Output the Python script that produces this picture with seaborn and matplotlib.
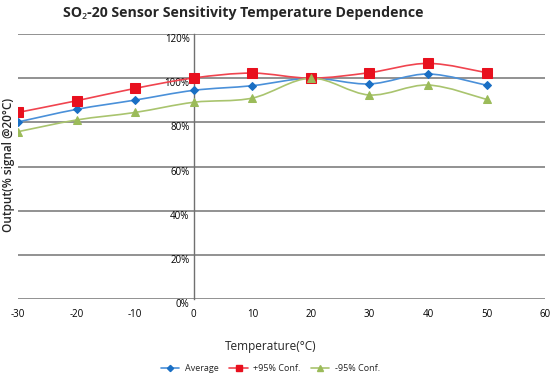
#!/usr/bin/env python3
import numpy as np
import pandas as pd
import matplotlib
matplotlib.use("Agg")
import matplotlib.pyplot as plt
from matplotlib.path import Path
from matplotlib.patches import PathPatch
from matplotlib.lines import Line2D
import seaborn as sns

temps = [-30, -20, -10, 0, 10, 20, 30, 40, 50]
average = [80.2, 85.9, 90.1, 94.5, 96.6, 100.0, 97.4, 101.9, 96.8]
upper95 = [84.5, 89.8, 95.4, 100.1, 102.3, 100.0, 102.5, 106.7, 102.5]
lower95 = [75.8, 81.1, 84.5, 89.1, 91.0, 100.0, 92.4, 96.9, 90.4]
series_names = ["Average", "+95% Conf.", "-95% Conf."]
x_ticks = [-30, -20, -10, 0, 10, 20, 30, 40, 50, 60]
y_ticks = [0, 20, 40, 60, 80, 100, 120]

colors = {"Average": "#1a6fc4", "+95% Conf.": "#e8101e", "-95% Conf.": "#9bbb59"}
line_colors = {"Average": "#4a90d9", "+95% Conf.": "#f0444f", "-95% Conf.": "#a9c46e"}
markers = {"Average": "D", "+95% Conf.": "s", "-95% Conf.": "^"}
msizes = {"Average": 4.5, "+95% Conf.": 6.5, "-95% Conf.": 6}

df = pd.DataFrame({"temp": temps, "Average": average, "+95% Conf.": upper95, "-95% Conf.": lower95})
long = df.melt(id_vars="temp", var_name="series", value_name="value")

sns.set_theme(style="white")
plt.rcParams["font.family"] = ["Open Sans", "Noto Sans", "DejaVu Sans"]

fig = plt.figure(figsize=(5.5, 3.82), dpi=100, facecolor="white")
ax = fig.add_axes([0.033, 0.217, 0.958, 0.694])


def smooth_path(xs, ys):
    # excel-like smoothed line: cubic bezier through every point
    pts = np.column_stack([xs, ys]).astype(float)
    verts = [tuple(pts[0])]
    codes = [Path.MOVETO]
    n = len(pts)
    for i in range(n - 1):
        p0 = pts[max(i - 1, 0)]
        p1 = pts[i]
        p2 = pts[i + 1]
        p3 = pts[min(i + 2, n - 1)]
        c1 = p1 + (p2 - p0) / 6.0
        c2 = p2 - (p3 - p1) / 6.0
        verts += [tuple(c1), tuple(c2), tuple(p2)]
        codes += [Path.CURVE4] * 3
    return Path(verts, codes)


for name in series_names:
    sub = long[long["series"] == name]
    ax.add_patch(PathPatch(smooth_path(sub["temp"], sub["value"]), facecolor="none",
                           edgecolor=line_colors[name], lw=1.2, zorder=3))
    sns.lineplot(data=sub, x="temp", y="value", ax=ax, lw=0, marker=markers[name],
                 markersize=msizes[name], color=colors[name], markeredgecolor=colors[name],
                 zorder=4, legend=False)

ax.set_xlim(-30, 60)
ax.set_ylim(0, 120)
ax.set_xticks(x_ticks)
ax.set_xticklabels([str(t) for t in x_ticks])
ax.set_yticks(y_ticks)
ax.set_yticklabels([f"{t}%" for t in y_ticks])
ax.yaxis.grid(True, color="#7f7f7f", lw=1.2)
ax.xaxis.grid(False)
for s in ["top", "right", "bottom"]:
    ax.spines[s].set_visible(False)
ax.spines["left"].set_position(("data", 0))
ax.spines["left"].set_color("#707070")
ax.spines["left"].set_linewidth(1.0)
ax.tick_params(axis="both", length=0, colors="#000000", labelsize=7)
ax.tick_params(axis="x", pad=7)
ax.tick_params(axis="y", pad=3)
for lab in ax.get_yticklabels():
    lab.set_va("top")
ax.set_xlabel("Temperature(°C)", fontsize=8.5)
ax.xaxis.set_label_coords(0.48, -0.155)
ax.set_ylabel("")
fig.text(0.016, 0.567, "Output(% signal @20°C)", rotation=90, ha="center", va="center",
         fontsize=8.5, fontweight="semibold")
fig.text(0.442, 0.966, "SO₂-20 Sensor Sensitivity Temperature Dependence", ha="center",
         va="center", fontsize=10.2, fontweight="bold")

handles = [Line2D([0], [0], color=line_colors[n], lw=1.2, marker=markers[n],
                  markersize=msizes[n] * 0.7, markerfacecolor=colors[n],
                  markeredgecolor=colors[n]) for n in series_names]
fig.legend(handles, series_names, loc="center", bbox_to_anchor=(0.492, 0.035), ncol=3,
           frameon=False, fontsize=6.5, handlelength=2.0, columnspacing=1.2,
           handletextpad=0.6)

fig.savefig("out.png", dpi=100, facecolor="white")
